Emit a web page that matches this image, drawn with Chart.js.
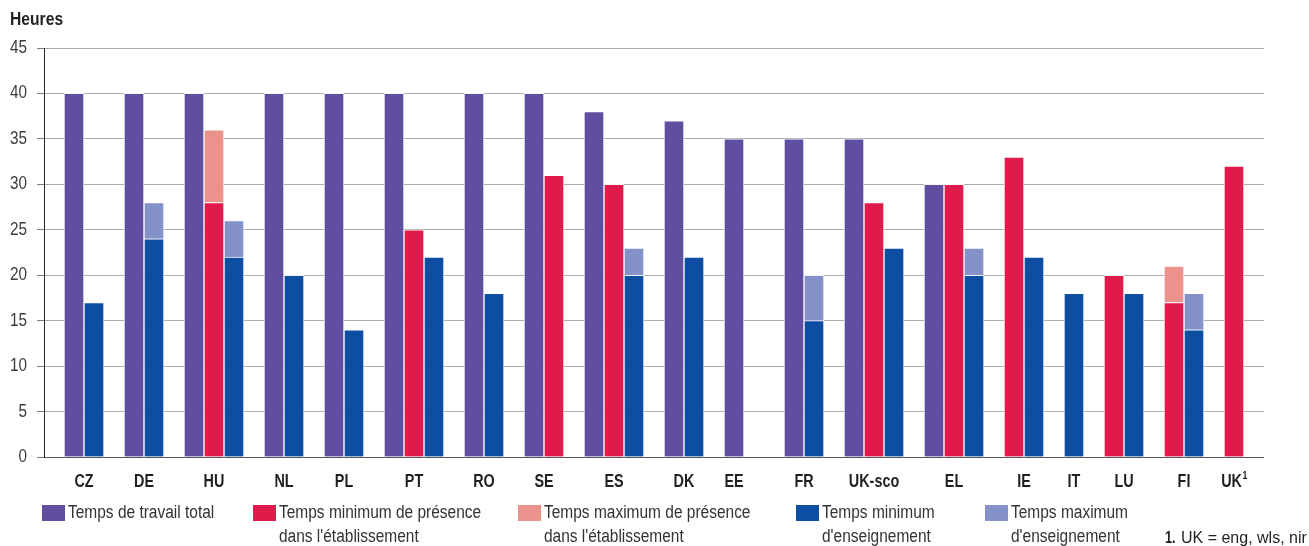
<!DOCTYPE html>
<html lang="fr">
<head>
<meta charset="utf-8">
<title>Heures de travail des enseignants</title>
<script src="https://cdn.jsdelivr.net/npm/chart.js@4.4.1/dist/chart.umd.min.js"></script>
<style>
  html, body { margin: 0; padding: 0; background: #ffffff; }
  #wrap { position: relative; width: 1309px; height: 546px; overflow: hidden; }
</style>
</head>
<body>
<div id="wrap"><canvas id="chart" width="1309" height="546"></canvas></div>
<script>
// Heures hebdomadaires par pays
const countries   = ['CZ', 'DE', 'HU', 'NL', 'PL', 'PT', 'RO', 'SE', 'ES', 'DK', 'EE', 'FR', 'UK-sco', 'EL', 'IE', 'IT', 'LU', 'FI', 'UK¹'];
const totalHours  = [40, 40, 40, 40, 40, 40, 40, 40, 38, 37, 35, 35, 35, 30, null, null, null, null, null];
const minPresence = [null, null, 28, null, null, 25, null, 31, 30, null, null, null, 28, 30, 33, null, 20, 17, 32];
const maxPresence = [null, null, 36, null, null, null, null, null, null, null, null, null, null, null, null, null, null, 21, null];
const minTeaching = [17, 24, 22, 20, 14, 22, 18, null, 20, 22, null, 15, 23, 20, 22, 18, 18, 14, null];
const maxTeaching = [null, 28, 26, null, null, null, null, null, 23, null, null, 20, null, 23, null, null, null, 18, null];
// EE keeps an empty teaching slot next to its bar
const blankTeachingSlot = ['EE'];

const yTicks = [0, 5, 10, 15, 20, 25, 30, 35, 40, 45];
const legendItems = [
  { color: '#604ea0', lines: ['Temps de travail total'] },
  { color: '#e01a4a', lines: ['Temps minimum de présence', "dans l'établissement"] },
  { color: '#ec928d', lines: ['Temps maximum de présence', "dans l'établissement"] },
  { color: '#0e4ea2', lines: ['Temps minimum', "d'enseignement"] },
  { color: '#8591c9', lines: ['Temps maximum', "d'enseignement"] }
];

const COL = {
  total: '#604ea0', pMin: '#e01a4a', pMax: '#ec928d', tMin: '#0e4ea2', tMax: '#8591c9'
};
const FONT = '"Liberation Sans", Arial, sans-serif';

// Build one category slot per bar, with an empty slot between countries
const slotLabels = [];
const sTotal = [], sPMin = [], sPMax = [], sTMin = [], sTMax = [];
const groupSlots = []; // slot indices carrying bars, per country
function pushSlot(t, pmin, pmax, tmin, tmax) {
  slotLabels.push(String(slotLabels.length));
  sTotal.push(t); sPMin.push(pmin); sPMax.push(pmax); sTMin.push(tmin); sTMax.push(tmax);
  return slotLabels.length - 1;
}
pushSlot(null, null, null, null, null);
countries.forEach((c, i) => {
  const used = [];
  if (totalHours[i] != null) used.push(pushSlot(totalHours[i], null, null, null, null));
  if (minPresence[i] != null) used.push(pushSlot(null, minPresence[i], maxPresence[i] != null ? maxPresence[i] - minPresence[i] : null, null, null));
  if (minTeaching[i] != null) used.push(pushSlot(null, null, null, minTeaching[i], maxTeaching[i] != null ? maxTeaching[i] - minTeaching[i] : null));
  else if (blankTeachingSlot.includes(c)) pushSlot(null, null, null, null, null);
  groupSlots.push(used);
  pushSlot(null, null, null, null, null);
});

// Condensed text: horizontally squeezed glyphs
function condensed(ctx, s, x, y, font, align, sx) {
  ctx.save();
  ctx.font = font;
  ctx.textBaseline = 'middle';
  ctx.textAlign = align;
  ctx.translate(x, y);
  ctx.scale(sx, 1);
  ctx.fillText(s, 0, 0);
  ctx.restore();
}
function condensedWidth(ctx, s, font, sx) {
  ctx.save();
  ctx.font = font;
  const w = ctx.measureText(s).width * sx;
  ctx.restore();
  return w;
}

// Tick values, country names, "Heures" title, legend and note
const decorations = {
  id: 'decorations',
  afterDraw(chart) {
    const ctx = chart.ctx;
    const x = chart.scales.x;
    const y = chart.scales.y;
    ctx.save();

    ctx.fillStyle = '#3c3c3c';
    yTicks.forEach(v => condensed(ctx, String(v), 27, y.getPixelForValue(v), '18px ' + FONT, 'right', 0.85));

    ctx.fillStyle = '#231f20';
    const catFont = 'bold 18px ' + FONT;
    countries.forEach((c, i) => {
      const s = groupSlots[i];
      const cx = (x.getPixelForValue(s[0]) + x.getPixelForValue(s[s.length - 1])) / 2;
      if (c.endsWith('¹')) {
        const base = c.slice(0, -1);
        const wb = condensedWidth(ctx, base, catFont, 0.8);
        const ws = condensedWidth(ctx, '1', 'bold 11px ' + FONT, 0.8);
        const left = cx - (wb + ws) / 2;
        condensed(ctx, base, left, 482, catFont, 'left', 0.8);
        condensed(ctx, '1', left + wb + 0.5, 476, 'bold 11px ' + FONT, 'left', 0.8);
      } else {
        condensed(ctx, c, cx, 482, catFont, 'center', 0.8);
      }
    });

    condensed(ctx, 'Heures', 10, 20, 'bold 18px ' + FONT, 'left', 0.87);

    const starts = [42, 253, 518, 796, 985];
    legendItems.forEach((it, k) => {
      const lx = starts[k];
      ctx.fillStyle = it.color;
      ctx.fillRect(lx, 505, 23, 16);
      ctx.fillStyle = '#333333';
      it.lines.forEach((t, j) => condensed(ctx, t, lx + 26, 513 + j * 24, '18px ' + FONT, 'left', 0.86));
    });

    ctx.fillStyle = '#231f20';
    condensed(ctx, '1.', 1165, 539, 'bold 16px ' + FONT, 'left', 0.8);
    condensed(ctx, 'UK = eng, wls, nir', 1181, 539, '16px ' + FONT, 'left', 1.0);
    ctx.restore();
  }
};

const barBase = {
  type: 'bar',
  borderColor: 'rgba(255,255,255,0.85)',
  borderWidth: 1,
  barPercentage: 1,
  categoryPercentage: 1,
  stack: 'h'
};

new Chart(document.getElementById('chart'), {
  type: 'bar',
  data: {
    labels: slotLabels,
    datasets: [
      Object.assign({}, barBase, { label: 'Temps de travail total', data: sTotal, backgroundColor: COL.total }),
      Object.assign({}, barBase, { label: 'Temps minimum de présence', data: sPMin, backgroundColor: COL.pMin }),
      Object.assign({}, barBase, { label: 'Temps maximum de présence', data: sPMax, backgroundColor: COL.pMax }),
      Object.assign({}, barBase, { label: "Temps minimum d'enseignement", data: sTMin, backgroundColor: COL.tMin }),
      Object.assign({}, barBase, { label: "Temps maximum d'enseignement", data: sTMax, backgroundColor: COL.tMax })
    ]
  },
  options: {
    responsive: false,
    animation: false,
    layout: { padding: { top: 48, right: 45, left: 0, bottom: 0 } },
    plugins: { legend: { display: false }, tooltip: { enabled: false } },
    scales: {
      x: {
        stacked: true,
        grid: { display: false },
        border: { display: false },
        ticks: { display: false },
        afterFit(s) { s.height = 89; }
      },
      y: {
        stacked: true,
        min: 0,
        max: 45,
        afterBuildTicks(s) { s.ticks = yTicks.map(v => ({ value: v })); },
        afterFit(s) { s.width = 44; },
        border: { display: true, color: '#231f20', width: 1 },
        grid: {
          color: ctx => (ctx.tick && ctx.tick.value === 0 ? '#555555' : '#ababab'),
          tickColor: '#7a7a7a',
          tickLength: 7,
          lineWidth: 1
        },
        ticks: { display: false }
      }
    }
  },
  plugins: [decorations]
});
</script>
</body>
</html>
